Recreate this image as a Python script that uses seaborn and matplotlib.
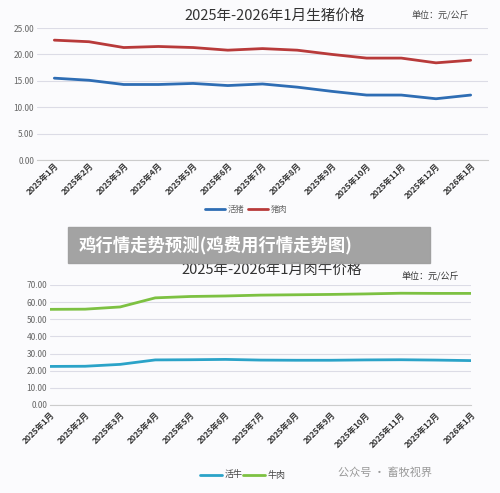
import numpy as np
import pandas as pd
import matplotlib
matplotlib.use("Agg")
import matplotlib.pyplot as plt
import seaborn as sns

sns.set_style("white")
plt.rcParams['font.family'] = ['Noto Sans CJK SC', 'DejaVu Sans']

months = ["2025年1月", "2025年2月", "2025年3月", "2025年4月", "2025年5月", "2025年6月",
          "2025年7月", "2025年8月", "2025年9月", "2025年10月", "2025年11月", "2025年12月", "2026年1月"]
live_pig = [15.5, 15.1, 14.3, 14.3, 14.5, 14.1, 14.4, 13.8, 13.0, 12.3, 12.3, 11.6, 12.3]
pork = [22.7, 22.4, 21.3, 21.5, 21.3, 20.8, 21.1, 20.8, 20.0, 19.3, 19.3, 18.4, 18.9]
live_cattle = [22.5, 22.6, 23.7, 26.3, 26.4, 26.6, 26.2, 26.1, 26.1, 26.3, 26.4, 26.2, 25.9]
beef = [55.8, 55.9, 57.2, 62.5, 63.3, 63.6, 64.1, 64.3, 64.5, 64.8, 65.2, 65.1, 65.1]

W, H = 500, 493
fig = plt.figure(figsize=(5, 4.93), dpi=100)
fig.patch.set_facecolor("#fbfbfd")
grey = "#666666"

def box(x0, y0, x1, y1):
    return [x0 / W, 1 - y1 / H, (x1 - x0) / W, (y1 - y0) / H]

def style(ax, ymax, step):
    ax.set_facecolor("none")
    ax.set_ylim(0, ymax)
    ax.set_yticks(np.arange(0, ymax + 0.1, step))
    ax.set_yticklabels([f"{v:.2f}" for v in np.arange(0, ymax + 0.1, step)], fontsize=6, color=grey)
    ax.yaxis.grid(True, color="#dcdce6", lw=0.8)
    for s in ["top", "right", "left"]:
        ax.spines[s].set_visible(False)
    ax.spines["bottom"].set_color("#cccccc")
    ax.tick_params(axis="y", length=0, pad=2)
    ax.tick_params(axis="x", length=0, pad=1)
    ax.set_xticks(range(len(months)))
    ax.set_xticklabels(months, rotation=45, ha="right", rotation_mode="anchor",
                       fontsize=6, color="#333333", fontweight="bold")
    ax.set_xlabel("")
    ax.set_ylabel("")

# top: pig prices
df1 = pd.DataFrame({"month": range(len(months)), "活猪": live_pig, "猪肉": pork}).melt(
    "month", var_name="品种", value_name="价格")
ax1 = fig.add_axes(box(37, 28, 488, 160))
sns.lineplot(data=df1, x="month", y="价格", hue="品种", palette=["#2E6DB4", "#B83A3A"],
             lw=2, ax=ax1, legend=False)
ax1.set_xlim(-0.5, len(months) - 0.5)
style(ax1, 25, 5)
fig.text(275 / W, 1 - 16 / H, "2025年-2026年1月生猪价格", ha="center", va="center", fontsize=10.5, color="#333333")
fig.text(440 / W, 1 - 16 / H, "单位：元/公斤", ha="center", va="center", fontsize=6.5, color="#444444")
for x, c, t in [(205, "#2E6DB4", "活猪"), (248, "#B83A3A", "猪肉")]:
    fig.lines.append(plt.Line2D([x / W, (x + 20) / W], [1 - 209 / H] * 2, color=c, lw=2, transform=fig.transFigure))
    fig.text((x + 23) / W, 1 - 209 / H, t, ha="left", va="center", fontsize=6, color=grey)

# bottom: cattle prices
df2 = pd.DataFrame({"month": range(len(months)), "活牛": live_cattle, "牛肉": beef}).melt(
    "month", var_name="品种", value_name="价格")
ax2 = fig.add_axes(box(50, 285, 471, 405))
sns.lineplot(data=df2, x="month", y="价格", hue="品种", palette=["#2BA3C8", "#7DC142"],
             lw=2, ax=ax2, legend=False)
ax2.set_xlim(0, len(months) - 1)
style(ax2, 70, 10)
ax2.tick_params(axis="x", length=3, color="#cccccc")
fig.text(272 / W, 1 - 270 / H, "2025年-2026年1月肉牛价格", ha="center", va="center", fontsize=10.5, color="#333333")
fig.text(430 / W, 1 - 277 / H, "单位：元/公斤", ha="center", va="center", fontsize=6.5, color="#333333")
for x, c, t in [(200, "#2BA3C8", "活牛"), (243, "#7DC142", "牛肉")]:
    fig.lines.append(plt.Line2D([x / W, (x + 22) / W], [1 - 475 / H] * 2, color=c, lw=2, transform=fig.transFigure))
    fig.text((x + 25) / W, 1 - 475 / H, t, ha="left", va="center", fontsize=6.5, color="#444444")
fig.text(385 / W, 1 - 473 / H, "公众号 · 畜牧视界", ha="center", va="center", fontsize=8, color="#999999")

# banner
fig.patches.append(plt.Rectangle((68 / W, 1 - 263 / H), 362 / W, 36 / H, color="#9e9e9e",
                                 alpha=0.95, transform=fig.transFigure, zorder=5))
fig.text(79 / W, 1 - 245 / H, "鸡行情走势预测(鸡费用行情走势图)", ha="left", va="center",
         fontsize=12.5, fontweight="bold", color="white", zorder=6)

fig.savefig("out.png", dpi=100)
